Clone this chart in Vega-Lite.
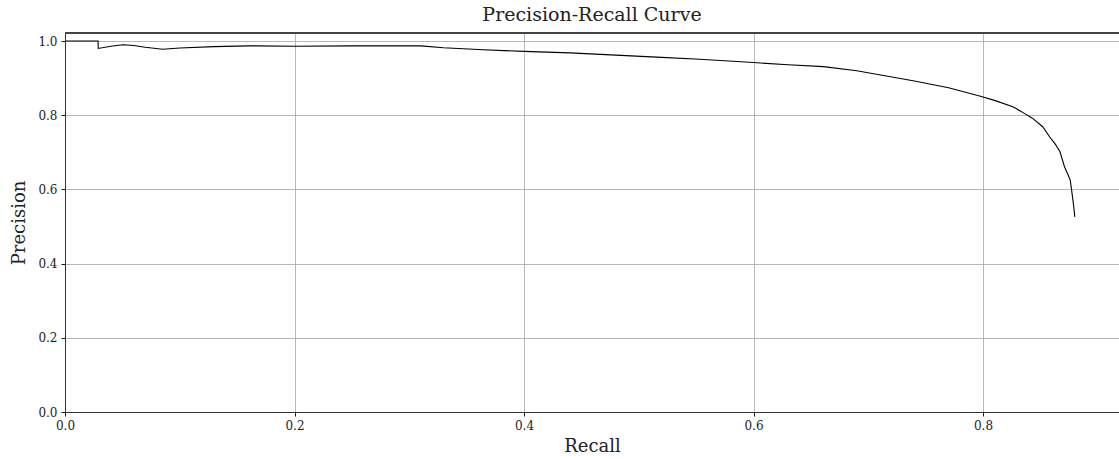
{
  "$schema": "https://vega.github.io/schema/vega-lite/v6.json",
  "autosize": {"type": "none"},
  "padding": {"left": 65, "top": 33, "right": 0, "bottom": 47},
  "width": 1054,
  "height": 379,
  "background": "white",
  "title": {"text": "Precision-Recall Curve", "font": "DejaVu Serif", "fontSize": 19, "fontWeight": "normal", "color": "#222222", "offset": 7},
  "config": {"view": {"stroke": null}},
  "data": {"values": [
    {"i": 0, "recall": 0.0, "precision": 1.0},
    {"i": 1, "recall": 0.0288, "precision": 1.0},
    {"i": 2, "recall": 0.029, "precision": 0.980},
    {"i": 3, "recall": 0.040, "precision": 0.986},
    {"i": 4, "recall": 0.0505, "precision": 0.990},
    {"i": 5, "recall": 0.060, "precision": 0.988},
    {"i": 6, "recall": 0.070, "precision": 0.983},
    {"i": 7, "recall": 0.085, "precision": 0.978},
    {"i": 8, "recall": 0.10, "precision": 0.981},
    {"i": 9, "recall": 0.13, "precision": 0.985},
    {"i": 10, "recall": 0.16, "precision": 0.987},
    {"i": 11, "recall": 0.20, "precision": 0.986},
    {"i": 12, "recall": 0.25, "precision": 0.987},
    {"i": 13, "recall": 0.31, "precision": 0.987},
    {"i": 14, "recall": 0.33, "precision": 0.982},
    {"i": 15, "recall": 0.36, "precision": 0.977},
    {"i": 16, "recall": 0.40, "precision": 0.972},
    {"i": 17, "recall": 0.44, "precision": 0.968},
    {"i": 18, "recall": 0.48, "precision": 0.962},
    {"i": 19, "recall": 0.52, "precision": 0.956},
    {"i": 20, "recall": 0.553, "precision": 0.951},
    {"i": 21, "recall": 0.60, "precision": 0.942},
    {"i": 22, "recall": 0.63, "precision": 0.936},
    {"i": 23, "recall": 0.661, "precision": 0.931},
    {"i": 24, "recall": 0.69, "precision": 0.920},
    {"i": 25, "recall": 0.739, "precision": 0.893},
    {"i": 26, "recall": 0.77, "precision": 0.874},
    {"i": 27, "recall": 0.797, "precision": 0.852},
    {"i": 28, "recall": 0.81, "precision": 0.840},
    {"i": 29, "recall": 0.826, "precision": 0.823},
    {"i": 30, "recall": 0.836, "precision": 0.805},
    {"i": 31, "recall": 0.843, "precision": 0.792},
    {"i": 32, "recall": 0.852, "precision": 0.769},
    {"i": 33, "recall": 0.858, "precision": 0.742},
    {"i": 34, "recall": 0.863, "precision": 0.722},
    {"i": 35, "recall": 0.867, "precision": 0.702},
    {"i": 36, "recall": 0.871, "precision": 0.661},
    {"i": 37, "recall": 0.874, "precision": 0.640},
    {"i": 38, "recall": 0.876, "precision": 0.625},
    {"i": 39, "recall": 0.878, "precision": 0.580},
    {"i": 40, "recall": 0.879, "precision": 0.555},
    {"i": 41, "recall": 0.880, "precision": 0.526}
  ]},
  "layer": [
    {
      "mark": {"type": "line", "color": "#000000", "strokeWidth": 1.1, "clip": true},
      "encoding": {
        "x": {"field": "recall", "type": "quantitative",
          "scale": {"domain": [0, 0.9185], "nice": false, "zero": false},
          "axis": {"orient": "bottom", "title": "Recall", "values": [0, 0.2, 0.4, 0.6, 0.8], "format": ".1f",
            "labelFont": "DejaVu Serif", "labelFontSize": 12, "labelColor": "#222222", "labelPadding": 4, "labelFlush": false,
            "titleFont": "DejaVu Serif", "titleFontSize": 18, "titleFontWeight": "normal", "titleColor": "#222222", "titlePadding": 6,
            "domainColor": "#333333", "domainWidth": 1, "tickColor": "#000000", "tickSize": 4, "tickWidth": 0.9,
            "grid": true, "gridColor": "#b0b0b0", "gridWidth": 0.9}},
        "y": {"field": "precision", "type": "quantitative",
          "scale": {"domain": [0, 1.0216], "nice": false, "zero": false},
          "axis": {"orient": "left", "title": "Precision", "values": [0, 0.2, 0.4, 0.6, 0.8, 1.0], "format": ".1f",
            "labelFont": "DejaVu Serif", "labelFontSize": 12, "labelColor": "#222222", "labelPadding": 4, "labelFlush": false,
            "titleFont": "DejaVu Serif", "titleFontSize": 18, "titleFontWeight": "normal", "titleColor": "#222222", "titlePadding": 9,
            "domainColor": "#333333", "domainWidth": 1, "tickColor": "#000000", "tickSize": 4, "tickWidth": 0.9,
            "grid": true, "gridColor": "#b0b0b0", "gridWidth": 0.9}},
        "order": {"field": "i", "type": "quantitative"}
      }
    },
    {
      "mark": {"type": "rule", "color": "#444444", "strokeWidth": 1.4},
      "encoding": {
        "y": {"datum": 1.0216, "type": "quantitative"}
      }
    }
  ]
}
